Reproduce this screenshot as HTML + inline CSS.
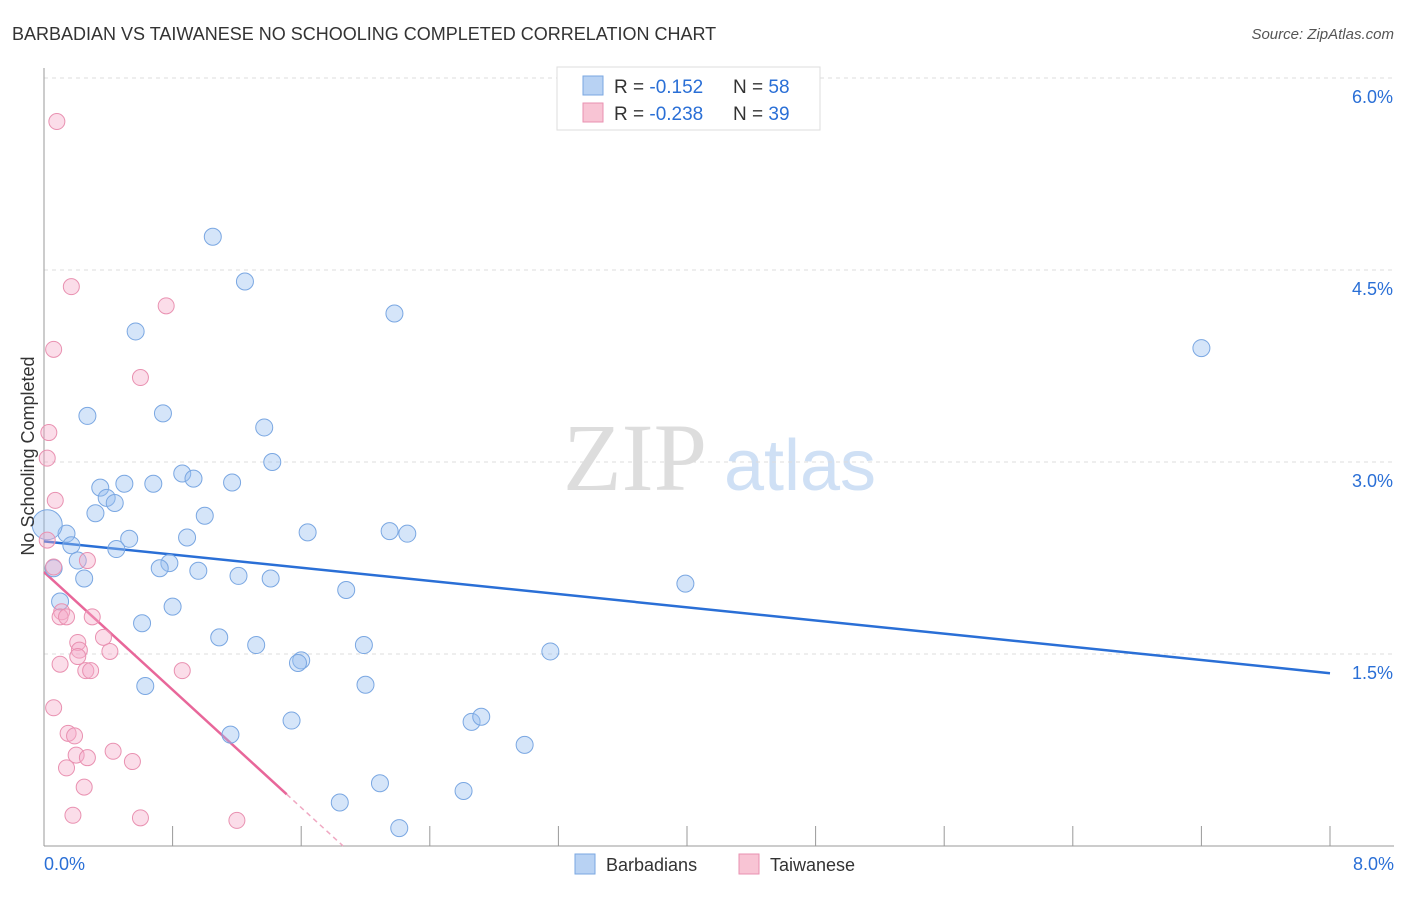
<!DOCTYPE html>
<html><head><meta charset="utf-8"><style>
body{margin:0;background:#fff;font-family:"Liberation Sans",sans-serif;}
</style></head><body>
<svg width="1406" height="892" xmlns="http://www.w3.org/2000/svg">
<text x="12" y="40" font-size="18" fill="#333">BARBADIAN VS TAIWANESE NO SCHOOLING COMPLETED CORRELATION CHART</text>
<text x="1394" y="39" font-size="15" fill="#555" font-style="italic" text-anchor="end">Source: ZipAtlas.com</text>
<g>
<text x="635" y="490" font-size="96" font-family="Liberation Serif,serif" fill="#ddd" text-anchor="middle">ZIP</text>
<text x="800" y="490" font-size="72" fill="#cfe0f5" text-anchor="middle">atlas</text>
</g>
<g id="grid"></g>
<g id="axes"></g>
<g id="lines"></g>
<g id="pts"></g>
<text transform="translate(34,456) rotate(-90)" font-size="18" fill="#333" text-anchor="middle">No Schooling Completed</text>
<g>
<rect x="557" y="67" width="263" height="63" fill="#fff" stroke="#ddd"/>
<rect x="583" y="76" width="20" height="19" fill="#b8d2f3" stroke="#7aa7e2"/>
<rect x="583" y="103" width="20" height="19" fill="#f8c4d4" stroke="#e991b1"/>
<text x="614" y="93" font-size="19" fill="#333">R = <tspan fill="#2a6fd6">-0.152</tspan><tspan x="733">N = </tspan><tspan fill="#2a6fd6">58</tspan></text>
<text x="614" y="120" font-size="19" fill="#333">R = <tspan fill="#2a6fd6">-0.238</tspan><tspan x="733">N = </tspan><tspan fill="#2a6fd6">39</tspan></text>
</g>
<g>
<rect x="575" y="854" width="20" height="20" fill="#b8d2f3" stroke="#7aa7e2"/>
<text x="606" y="871" font-size="18" fill="#333">Barbadians</text>
<rect x="739" y="854" width="20" height="20" fill="#f8c4d4" stroke="#e991b1"/>
<text x="770" y="871" font-size="18" fill="#333">Taiwanese</text>
</g>
</svg>
<script>
const blueX=[1.05,1.25,0.57,2.18,7.20,0.27,0.74,1.37,1.42,0.86,0.93,1.17,0.35,0.50,0.68,0.39,0.44,0.32,1.00,0.14,0.89,0.53,1.64,2.15,2.26,0.17,0.45,0.21,0.06,0.78,0.72,0.96,1.21,1.41,0.25,1.88,3.99,0.10,0.80,0.61,1.09,1.32,1.99,3.15,1.60,1.58,0.63,2.00,1.54,2.66,2.72,1.16,2.99,2.09,2.61,1.84,2.21,0.02];
const blueY=[4.76,4.41,4.02,4.16,3.89,3.36,3.38,3.27,3.00,2.91,2.87,2.84,2.80,2.83,2.83,2.72,2.68,2.60,2.58,2.44,2.41,2.40,2.45,2.46,2.44,2.35,2.32,2.23,2.17,2.21,2.17,2.15,2.11,2.09,2.09,2.00,2.05,1.91,1.87,1.74,1.63,1.57,1.57,1.52,1.45,1.43,1.25,1.26,0.98,0.97,1.01,0.87,0.79,0.49,0.43,0.34,0.14,2.51];
const pinkX=[0.08,0.17,0.76,0.06,0.60,0.03,0.02,0.07,0.02,0.27,0.06,0.11,0.10,0.30,0.14,0.37,0.21,0.22,0.21,0.41,0.10,0.26,0.29,0.86,0.06,0.15,0.19,0.20,0.27,0.43,0.55,0.14,0.25,0.18,0.60,1.20];
const pinkY=[5.66,4.37,4.22,3.88,3.66,3.23,3.03,2.70,2.39,2.23,2.18,1.83,1.79,1.79,1.79,1.63,1.59,1.53,1.48,1.52,1.42,1.37,1.37,1.37,1.08,0.88,0.86,0.71,0.69,0.74,0.66,0.61,0.46,0.24,0.22,0.20];
const yTicks=[1.5,3.0,4.5,6.0];
const yTickLabels=["1.5%","3.0%","4.5%","6.0%"];
const xTicks=[0,0.8,1.6,2.4,3.2,4.0,4.8,5.6,6.4,7.2,8.0];
const blueTrend=[2.38,1.35];
const pinkTrend=[2.14,-1.15];
const NS="http://www.w3.org/2000/svg";
const sx=v=>44+v*160.75, sy=v=>846-v*128;
function mk(t,a,p){const e=document.createElementNS(NS,t);for(const k in a)e.setAttribute(k,a[k]);document.getElementById(p).appendChild(e);return e;}
yTicks.forEach((t,i)=>{
 const l=mk('line',{x1:44,x2:1394,y1:sy(t),y2:sy(t),stroke:'#ddd','stroke-dasharray':'4,4'},'grid');
 
 
 const tx=mk('text',{x:1393,y:sy(t)+25,'font-size':18,fill:'#2a6fd6','text-anchor':'end'},'grid');tx.textContent=yTickLabels[i];
 
 
});
const tl=mk('line',{x1:44,x2:1394,y1:78,y2:78,stroke:'#ddd','stroke-dasharray':'4,4'},'grid');
mk('line',{x1:44,x2:44,y1:68,y2:846,stroke:'#999'},'axes');
mk('line',{x1:44,x2:1394,y1:846,y2:846,stroke:'#999'},'axes');
xTicks.forEach(t=>{const l=mk('line',{x1:sx(t),x2:sx(t),y1:826,y2:846,stroke:'#999'},'axes');
 
 });
let a=mk('text',{x:44,y:870,'font-size':18,fill:'#2a6fd6'},'axes');a.textContent='0.0%';


a=mk('text',{x:1394,y:870,'font-size':18,fill:'#2a6fd6','text-anchor':'end'},'axes');a.textContent='8.0%';


blueX.forEach((x,i)=>{const c=mk('circle',{cx:sx(x),cy:sy(blueY[i]),r:i==blueX.length-1?15:8.5,fill:'rgba(150,190,240,0.4)',stroke:'#7aa7e2','stroke-width':1},'pts');
 
 });
pinkX.forEach((x,i)=>{const c=mk('circle',{cx:sx(x),cy:sy(pinkY[i]),r:8,fill:'rgba(245,170,200,0.4)',stroke:'#e991b1','stroke-width':1},'pts');
 
 });
let b=mk('line',{x1:sx(0),y1:sy(blueTrend[0]),x2:sx(8),y2:sy(blueTrend[1]),stroke:'#2a6fd6','stroke-width':2.5},'lines');


const pe=1.51, pz=-pinkTrend[0]/pinkTrend[1];
let p=mk('line',{x1:sx(0),y1:sy(pinkTrend[0]),x2:sx(pe),y2:sy(pinkTrend[0]+pinkTrend[1]*pe),stroke:'#e8679a','stroke-width':2.5},'lines');


p=mk('line',{x1:sx(pe),y1:sy(pinkTrend[0]+pinkTrend[1]*pe),x2:sx(pz),y2:sy(0),stroke:'#f0a8c2','stroke-width':1.5,'stroke-dasharray':'5,4'},'lines');


</script>
</body></html>
